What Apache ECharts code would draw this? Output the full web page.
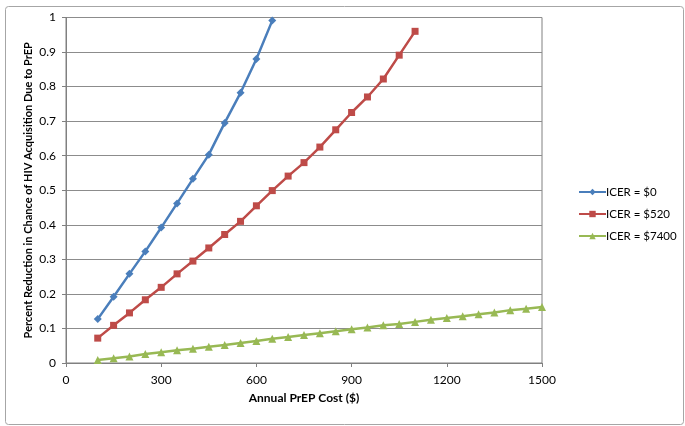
<!DOCTYPE html>
<html>
<head>
<meta charset="utf-8">
<script src="https://cdn.jsdelivr.net/npm/echarts@6/dist/echarts.min.js"></script>
<style>html,body{margin:0;padding:0;background:#fff}#c{width:685px;height:426px}</style>
</head>
<body>
<div id="c"></div>
<script>
const costBlue = [100,150,200,250,300,350,400,450,500,550,600,650];
const icer0 = [0.127,0.192,0.258,0.323,0.392,0.462,0.533,0.603,0.695,0.782,0.88,0.991];
const costRed = [100,150,200,250,300,350,400,450,500,550,600,650,700,750,800,850,900,950,1000,1050,1100];
const icer520 = [0.072,0.109,0.145,0.183,0.219,0.258,0.295,0.333,0.372,0.41,0.455,0.499,0.541,0.58,0.625,0.675,0.725,0.77,0.822,0.891,0.96];
const costGreen = [100,150,200,250,300,350,400,450,500,550,600,650,700,750,800,850,900,950,1000,1050,1100,1150,1200,1250,1300,1350,1400,1450,1500];
const icer7400 = [0.009,0.014,0.019,0.026,0.031,0.037,0.041,0.047,0.052,0.058,0.064,0.07,0.075,0.081,0.086,0.092,0.098,0.103,0.109,0.113,0.119,0.125,0.13,0.135,0.141,0.146,0.153,0.157,0.162];
const seriesNames = ['ICER = $0','ICER = $520','ICER = $7400'];
const colors = ['#4a7ebb','#be4b48','#98b954'];
const pair = (xs, ys) => xs.map((x, i) => [x, ys[i]]);

const FONT = 'Lato, "Open Sans", sans-serif';
const chart = echarts.init(document.getElementById('c'), null, {renderer: 'canvas'});
chart.setOption({
  animation: false,
  backgroundColor: '#fff',
  textStyle: {fontFamily: FONT},
  graphic: [{
    type: 'rect', left: 3, top: 4, shape: {width: 678, height: 418, r: 3},
    style: {fill: 'none', stroke: '#a6a6a6', lineWidth: 1}, silent: true, z: -1
  }],
  grid: {left: 66, top: 17.5, right: 143, bottom: 63, show: true, borderColor: '#808080', borderWidth: 1, containLabel: false},
  xAxis: {
    type: 'value', min: 0, max: 1500, interval: 300,
    name: 'Annual PrEP Cost ($)', nameLocation: 'middle', nameGap: 29, nameMoveOverlap: false,
    nameTextStyle: {fontWeight: 'bold', fontSize: 12, color: '#000', fontFamily: FONT},
    axisLine: {show: true, lineStyle: {color: '#808080', width: 1}},
    axisTick: {show: true, length: 4, lineStyle: {color: '#808080'}},
    axisLabel: {fontSize: 12, color: '#000', margin: 11, fontFamily: FONT, formatter: v => String(v)},
    splitLine: {show: false}
  },
  yAxis: {
    type: 'value', min: 0, max: 1, interval: 0.1,
    name: 'Percent Reduction in Chance of HIV Acquisition Due to PrEP', nameLocation: 'middle', nameGap: 32, nameMoveOverlap: false,
    nameTextStyle: {fontWeight: 'bold', fontSize: 11, color: '#000', fontFamily: FONT},
    axisLine: {show: true, lineStyle: {color: '#808080', width: 1}},
    axisTick: {show: true, length: 4, lineStyle: {color: '#808080'}},
    axisLabel: {fontSize: 12, color: '#000', margin: 10, fontFamily: FONT},
    splitLine: {show: true, lineStyle: {color: '#8c8c8c', width: 1}}
  },
  legend: {
    orient: 'vertical', left: 573, top: 181, itemWidth: 27, itemHeight: 8, itemGap: 10,
    textStyle: {fontSize: 11.5, color: '#000', fontFamily: FONT, padding: [0,0,0,-5]},
    data: seriesNames
  },
  series: [
    {name: seriesNames[0], type: 'line', data: pair(costBlue, icer0), symbol: 'diamond', symbolSize: 8,
     lineStyle: {width: 2.5, color: colors[0]}, itemStyle: {color: colors[0]}},
    {name: seriesNames[1], type: 'line', data: pair(costRed, icer520), symbol: 'rect', symbolSize: 7,
     lineStyle: {width: 2.5, color: colors[1]}, itemStyle: {color: colors[1]}},
    {name: seriesNames[2], type: 'line', data: pair(costGreen, icer7400), symbol: 'triangle', symbolSize: 8,
     lineStyle: {width: 2.5, color: colors[2]}, itemStyle: {color: colors[2]}}
  ]
});
</script>
</body>
</html>
